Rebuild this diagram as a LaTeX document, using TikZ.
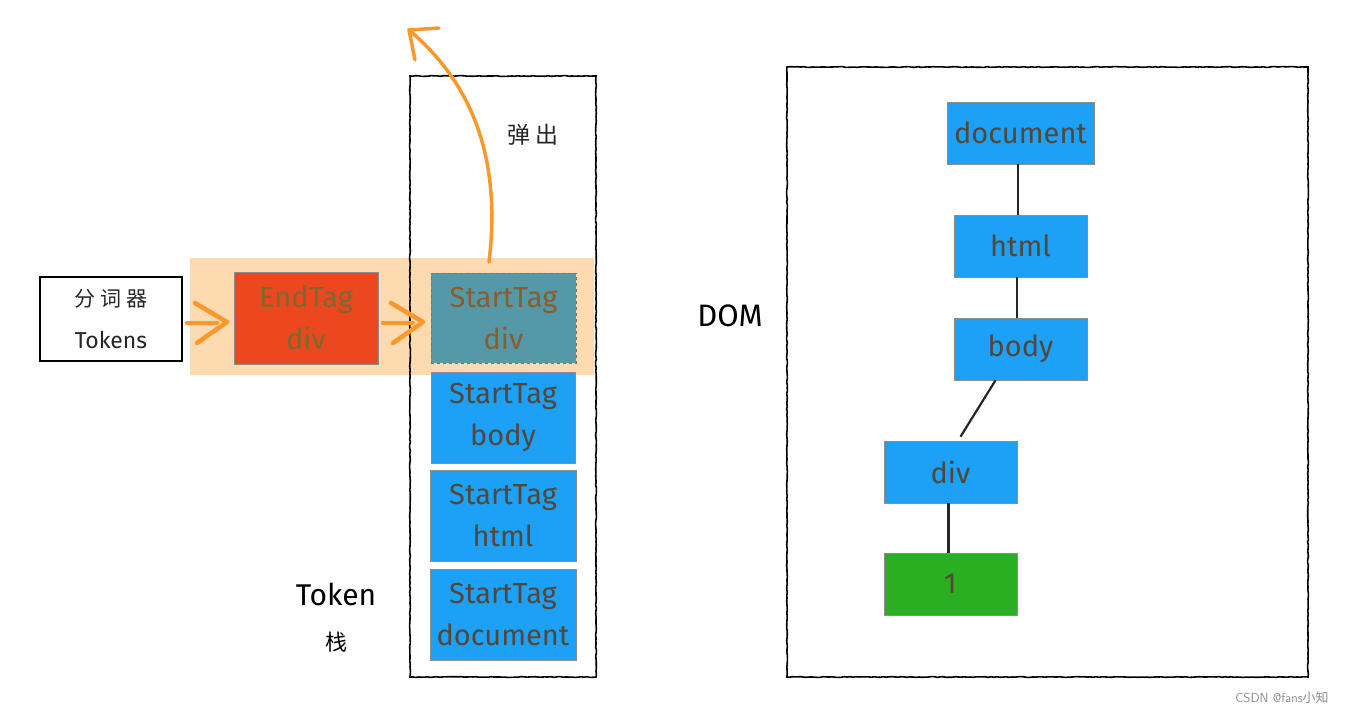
\documentclass[tikz,border=0pt]{standalone}
\usepackage{fontspec}
\setmainfont{Fira Sans}
\newfontfamily\cjk{Noto Sans CJK SC}
\usetikzlibrary{decorations.pathmorphing,calc}
\definecolor{tagblue}{RGB}{29,161,247}
\definecolor{tagred}{RGB}{236,72,32}
\definecolor{tagteal}{RGB}{85,153,168}
\definecolor{taggreen}{RGB}{42,174,34}
\definecolor{peach}{RGB}{253,218,176}
\definecolor{arroworange}{RGB}{250,152,44}
\definecolor{txtbrown}{RGB}{84,70,56}
\definecolor{txtolive}{RGB}{125,104,48}
\definecolor{txtrust}{RGB}{140,92,44}
\tikzset{
  rough/.style={draw=black, line width=1.6pt, decorate, decoration={random steps, segment length=3pt, amplitude=0.4pt}},
  tagbox/.style={rectangle, draw=black!45, line width=0.6pt, fill=tagblue, text=txtbrown, align=center, inner sep=0pt, font=\fontsize{29}{42}\selectfont},
  domnode/.style={tagbox, minimum height=62pt},
  oarrow/.style={draw=arroworange, line width=4.5pt, line cap=round, line join=round},
  treeline/.style={line width=2.2pt, black!85},
  lbl/.style={inner sep=0pt, font=\fontsize{30}{32}\selectfont, text=black}
}
\begin{document}
\begin{tikzpicture}[x=1pt,y=-1pt]
\useasboundingbox (0,0) rectangle (1356,716);
% highlight band
\fill[peach] (190,258) rectangle (594,375);
% stack frame
\path[rough] (410,76) rectangle (596,677);
% DOM frame
\path[rough] (787,67) rectangle (1308,677);
% tokenizer box
\node[draw=black, line width=1.4pt, minimum width=142pt, minimum height=84pt, align=center, inner sep=0pt, font=\fontsize{23}{42}\selectfont, text=black!85] (tok) at (111,319) {{\cjk\fontsize{21}{24}\selectfont 分 词 器}\\Tokens};
% EndTag div
\node[tagbox, fill=tagred, text=txtolive, minimum width=144pt, minimum height=92pt] (endtag) at (306,318) {EndTag\\div};
% StartTag div (popped)
\node[tagbox, fill=tagteal, text=txtrust, draw=black!55, dashed, minimum width=145pt, minimum height=90pt] (stdiv) at (503.5,318) {StartTag\\div};
% stack items
\node[tagbox, minimum width=144pt, minimum height=91pt] (stbody) at (503,417.5) {StartTag\\body};
\node[tagbox, minimum width=146pt, minimum height=91pt] (sthtml) at (503,515.5) {StartTag\\html};
\node[tagbox, minimum width=146pt, minimum height=91pt] (stdoc) at (503,614.5) {StartTag\\document};
% chevrons
\coordinate (c1) at (187,323);
\coordinate (c2) at (383,323);
\foreach \c in {c1,c2}{
  \draw[oarrow] (\c) -- ++(30,0);
  \draw[oarrow] ($(\c)+(8,-20)$) -- ++(32,19) -- ++(-30,21);
}
% pop arrow
\coordinate (popstart) at (489,262);
\coordinate (poptip) at (409,30);
\draw[oarrow, line width=3.5pt] (popstart) .. controls (500,170) and (480,90) .. (poptip);
\draw[oarrow, line width=3.5pt] ($(poptip)+(30,-2)$) -- (poptip) -- ++(6,30);
\node[inner sep=0pt, font=\cjk\fontsize{23}{24}\selectfont, text=black!85] (pop) at (533,135) {弹 出};
% labels
\node[lbl] (tokenlbl) at (336,594) {Token};
\node[inner sep=0pt, font=\cjk\fontsize{22}{24}\selectfont, text=black] (stacklbl) at (336,642) {栈};
\node[lbl, font=\fontsize{31}{34}\selectfont] (domlbl) at (730,316) {DOM};
% DOM tree
\node[domnode, minimum width=147pt] (ddoc) at (1020.5,133) {document};
\node[domnode, minimum width=133pt] (dhtml) at (1020.5,246) {html};
\node[domnode, minimum width=133pt] (dbody) at (1020.5,349) {body};
\node[domnode, minimum width=133pt] (ddiv) at (950.5,472) {div};
\node[domnode, minimum width=133pt, fill=taggreen] (done) at (950.5,584) {1};
\draw[treeline] (ddoc.south -| 1018,0) -- (dhtml.north -| 1018,0);
\draw[treeline] (dhtml.south -| 1017,0) -- (dbody.north -| 1017,0);
\draw[treeline] ($(dbody.south)+(-25,0)$) -- ($(ddiv.north)+(10,-4)$);
\draw[treeline] ($(ddiv.south)+(-2,0)$) -- ($(done.north)+(-2,0)$);
% watermark
\node[inner sep=0pt, font=\sffamily\fontsize{13}{15}\selectfont, text=black!45] (wm) at (1282,698) {CSDN @fans{\cjk 小知}};
\end{tikzpicture}
\end{document}
